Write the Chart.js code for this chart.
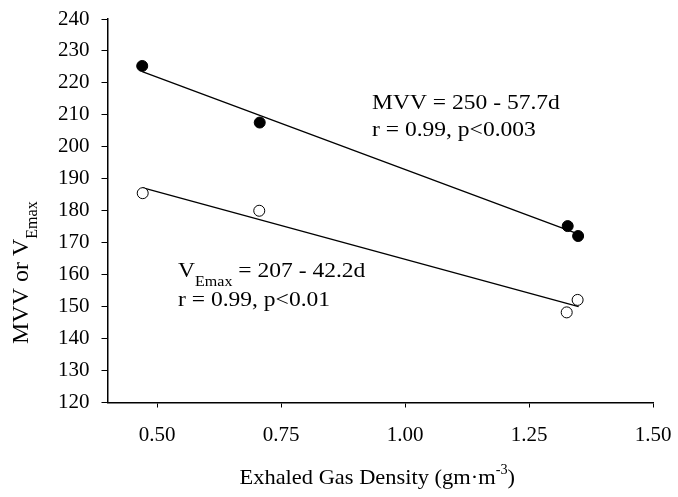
<!DOCTYPE html>
<html>
<head>
<meta charset="utf-8">
<script src="https://cdn.jsdelivr.net/npm/chart.js@4.4.1/dist/chart.umd.min.js"></script>
<style>
html,body{margin:0;padding:0;background:#fff;}
#wrap{width:678px;height:497px;position:relative;}
</style>
</head>
<body>
<div id="wrap"><canvas id="c" width="678" height="497"></canvas></div>
<script>
// ---- data ----
const densityMVV = [0.47, 0.707, 1.328, 1.349];
const valuesMVV = [225.3, 207.6, 175.2, 172.1];
const densityVE = [0.471, 0.706, 1.326, 1.348];
const valuesVE = [185.5, 180.0, 148.2, 152.1];
const fitMVVx = [0.47, 1.35];
const fitMVVy = [223.5, 172.7];
const fitVEx = [0.47, 1.35];
const fitVEy = [187.2, 150.0];
const xTicks = [0.50, 0.75, 1.00, 1.25, 1.50];
const yTicks = [120,130,140,150,160,170,180,190,200,210,220,230,240];

const SERIF = "'Liberation Serif', 'DejaVu Serif', serif";

const toPts = (xs, ys) => xs.map((x, i) => ({x: x, y: ys[i]}));

// draws a run of [text, size, dy] pieces starting at (x, y), stretched horizontally by sx
function drawRun(ctx, pieces, x, y, sx) {
  ctx.save();
  ctx.translate(x, y);
  ctx.scale(sx, 1);
  let cx = 0;
  for (const [t, size, dy] of pieces) {
    ctx.font = size + 'px ' + SERIF;
    ctx.fillText(t, cx, dy);
    cx += ctx.measureText(t).width;
  }
  ctx.restore();
  return cx * sx;
}
function runWidth(ctx, pieces, sx) {
  let w = 0;
  for (const [t, size] of pieces) { ctx.font = size + 'px ' + SERIF; w += ctx.measureText(t).width; }
  return w * sx;
}

const textPlugin = {
  id: 'texts',
  afterDraw(chart) {
    const ctx = chart.ctx;
    const ca = chart.chartArea;
    ctx.save();
    ctx.fillStyle = '#000';
    ctx.textBaseline = 'alphabetic';
    ctx.textAlign = 'left';
    const SX = 1.07;
    // MVV annotation
    drawRun(ctx, [['MVV = 250 - 57.7d', 22, 0]], 372, 109, SX);
    drawRun(ctx, [['r = 0.99, p<0.003', 22, 0]], 372, 136, SX);
    // VEmax annotation
    drawRun(ctx, [['V', 22, 0], ['Emax', 15, 9], [' = 207 - 42.2d', 22, 0]], 178, 277, SX);
    drawRun(ctx, [['r = 0.99, p<0.01', 22, 0]], 178, 306, SX);

    // X axis title
    const xt = [['Exhaled Gas Density (gm\u00B7m', 22, 0], ['-3', 14, -10], [')', 22, 0]];
    const w = runWidth(ctx, xt, 1.02);
    drawRun(ctx, xt, (ca.left + ca.right) / 2 - w / 2 - 3, 484, 1.02);

    // Y axis title (rotated)
    ctx.translate(28, 344);
    ctx.rotate(-Math.PI / 2);
    ctx.font = '24px ' + SERIF;
    ctx.fillText('MVV or V', 0, 0);
    const wy = ctx.measureText('MVV or V').width;
    ctx.font = '16px ' + SERIF;
    ctx.fillText('Emax', wy, 9);
    ctx.restore();
  }
};

new Chart(document.getElementById('c'), {
  data: {
    datasets: [
      {type: 'scatter', data: toPts(densityMVV, valuesMVV), order: 0,
       pointRadius: 5.5, pointBackgroundColor: '#000', pointBorderColor: '#000', pointBorderWidth: 1},
      {type: 'scatter', data: toPts(densityVE, valuesVE), order: 0,
       pointRadius: 5.5, pointBackgroundColor: '#fff', pointBorderColor: '#000', pointBorderWidth: 1},
      {type: 'line', data: toPts(fitMVVx, fitMVVy), order: 1,
       borderColor: '#000', borderWidth: 1.3, pointRadius: 0, fill: false},
      {type: 'line', data: toPts(fitVEx, fitVEy), order: 1,
       borderColor: '#000', borderWidth: 1.3, pointRadius: 0, fill: false}
    ]
  },
  options: {
    responsive: false,
    animation: false,
    events: [],
    layout: {padding: {top: 19, right: 25, left: 0, bottom: 0}},
    plugins: {legend: {display: false}, tooltip: {enabled: false}},
    scales: {
      x: {
        type: 'linear', min: 0.4, max: 1.5,
        afterBuildTicks: s => { s.ticks = xTicks.map(v => ({value: v})); },
        afterFit: s => { s.height = 94.5; s.paddingLeft = 0; s.paddingRight = 0; },
        border: {display: true, color: '#000', width: 1.5},
        grid: {drawOnChartArea: false, drawTicks: true, tickLength: 5, color: '#000', lineWidth: 1},
        ticks: {color: '#000', font: {family: SERIF, size: 21}, padding: 15,
                maxRotation: 0, callback: v => Number(v).toFixed(2)}
      },
      y: {
        type: 'linear', min: 120, max: 240,
        afterBuildTicks: s => { s.ticks = yTicks.map(v => ({value: v})); },
        afterFit: s => { s.width = 107.5; s.paddingTop = 0; s.paddingBottom = 0; },
        border: {display: true, color: '#000', width: 1.5},
        grid: {drawOnChartArea: false, drawTicks: true, tickLength: 6, color: '#000', lineWidth: 1},
        ticks: {color: '#000', font: {family: SERIF, size: 21}, padding: 12}
      }
    }
  },
  plugins: [textPlugin]
});
</script>
</body>
</html>
